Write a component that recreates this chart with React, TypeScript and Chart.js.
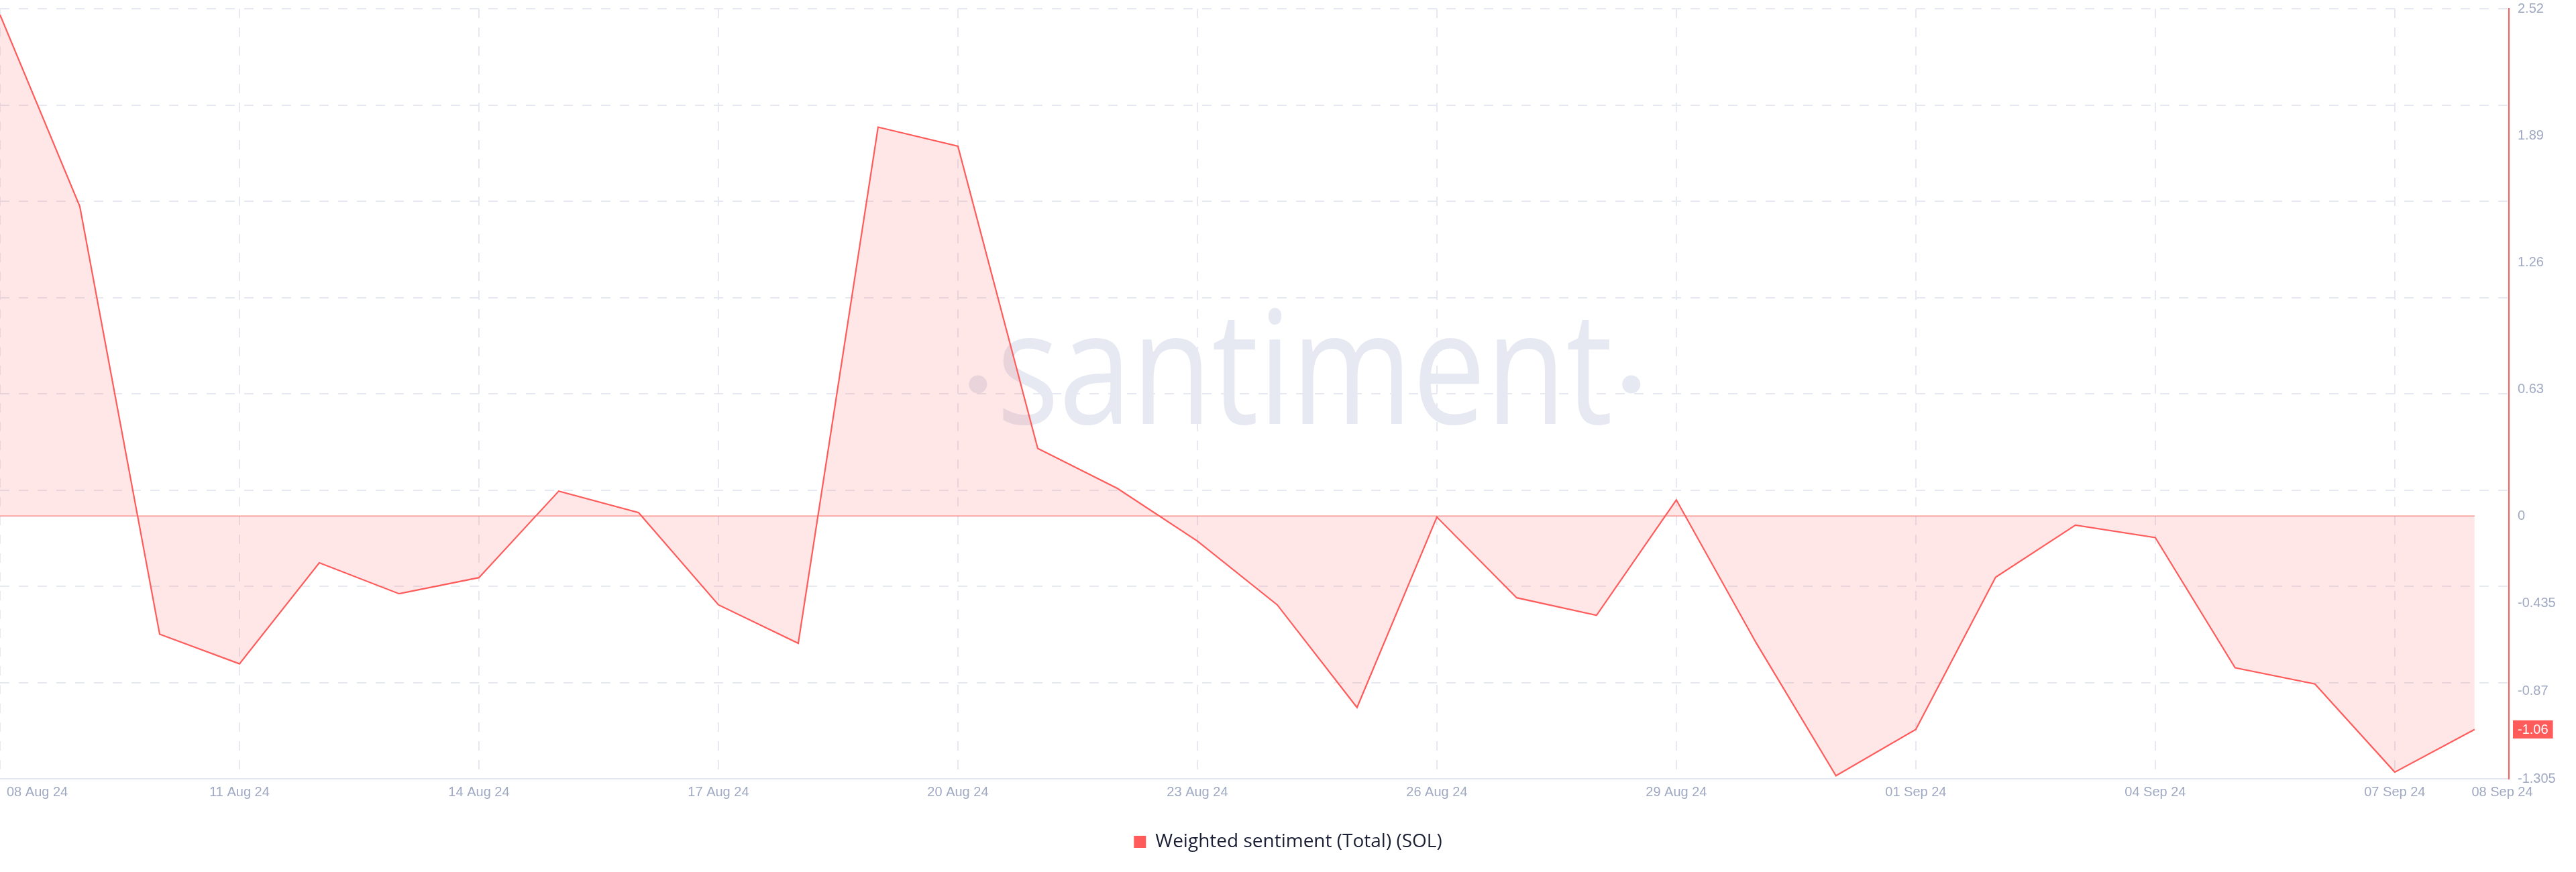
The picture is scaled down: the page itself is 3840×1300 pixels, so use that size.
import React, { useEffect, useRef } from 'react';
import { Chart, registerables } from 'chart.js';

Chart.register(...registerables);

// ---- data ----
const days = [
  '08 Aug 24', '09 Aug 24', '10 Aug 24', '11 Aug 24', '12 Aug 24', '13 Aug 24', '14 Aug 24', '15 Aug 24',
  '16 Aug 24', '17 Aug 24', '18 Aug 24', '19 Aug 24', '20 Aug 24', '21 Aug 24', '22 Aug 24', '23 Aug 24',
  '24 Aug 24', '25 Aug 24', '26 Aug 24', '27 Aug 24', '28 Aug 24', '29 Aug 24', '30 Aug 24', '31 Aug 24',
  '01 Sep 24', '02 Sep 24', '03 Sep 24', '04 Sep 24', '05 Sep 24', '06 Sep 24', '07 Sep 24', '08 Sep 24',
];

const sentiment = [
  2.49, 1.538, -0.587, -0.734, -0.232, -0.386, -0.306, 0.124,
  0.017, -0.441, -0.632, 1.932, 1.837, 0.336, 0.137, -0.124,
  -0.441, -0.951, -0.005, -0.406, -0.493, 0.08, -0.63, -1.29,
  -1.06, -0.304, -0.045, -0.107, -0.754, -0.834, -1.272, -1.06,
];

const xTickIndices = [0, 3, 6, 9, 12, 15, 18, 21, 24, 27, 30, 31];
const yTickValues = [-1.305, -0.87, -0.435, 0, 0.63, 1.26, 1.89, 2.52];
const Y_MIN = -1.305;
const Y_MAX = 2.52;
const GRID_DIVISIONS = 8;
const X_END_PAD = 0.43; // extra room after last day
const SERIES_LABEL = 'Weighted sentiment (Total) (SOL)';

// ---- styles ----
const RED = '#ff5b5b';
const FILL = 'rgba(255, 91, 91, 0.15)';
const ZERO_LINE = 'rgba(240, 110, 110, 0.75)';
const GRID = '#e7e9f2';
const TICK = '#a0a9c2';
const AXIS_GREY = '#e3e6ef';
const WATERMARK = '#e6e9f2';
const TICK_FONT = { family: '"Liberation Sans", Arial, sans-serif', size: 20 };

const watermarkPlugin = {
  id: 'watermark',
  beforeDatasetsDraw(chart: any) {
    const { ctx, chartArea: a } = chart;
    ctx.save();
    ctx.fillStyle = WATERMARK;
    ctx.font = '500 234px "Open Sans"';
    const text = 'santiment';
    const w = ctx.measureText(text).width;
    const targetW = a.width * 0.2455;
    const sx = targetW / w;
    const cx = a.left + a.width * 0.52;
    const baseline = a.top + a.height * 0.5393;
    ctx.save();
    ctx.translate(cx, baseline);
    ctx.scale(sx, 1);
    ctx.textAlign = 'center';
    ctx.textBaseline = 'alphabetic';
    ctx.fillText(text, 0, 0);
    ctx.restore();
    const dotY = a.top + a.height * 0.4878;
    const dx = a.width * 0.1302;
    [cx - dx, cx + dx].forEach((x) => {
      ctx.beginPath();
      ctx.arc(x, dotY, 13.5, 0, Math.PI * 2);
      ctx.fill();
    });
    ctx.restore();
  },
};

const xLabelPlugin = {
  id: 'xLabelAdjust',
  beforeDraw(chart: any) {
    const xs = chart.scales.x;
    const items = xs.getLabelItems(chart.chartArea);
    if (!items || !items.length) return;
    const first = items[0];
    first.options.textAlign = 'left';
    first.options.translation = [xs.getPixelForValue(xTickIndices[0]) + 10, first.options.translation[1]];
    const last = items[items.length - 1];
    last.options.textAlign = 'center';
    last.options.translation = [chart.chartArea.right - 10, last.options.translation[1]];
  },
};

const badgePlugin = {
  id: 'lastValueBadge',
  afterDraw(chart: any) {
    const { ctx, chartArea: a } = chart;
    const ys = chart.scales.y;
    const v = sentiment[sentiment.length - 1];
    const y = ys.getPixelForValue(v);
    const text = v.toFixed(2);
    ctx.save();
    ctx.font = `${TICK_FONT.size}px ${TICK_FONT.family}`;
    const tw = ctx.measureText(text).width;
    const h = 27;
    ctx.fillStyle = RED;
    ctx.fillRect(a.right + 6, y - h / 2, tw + 14, h);
    ctx.fillStyle = '#ffffff';
    ctx.textAlign = 'left';
    ctx.textBaseline = 'middle';
    ctx.fillText(text, a.right + 13, y + 1);
    ctx.restore();
  },
};

export default function App() {
  const canvasRef = useRef<HTMLCanvasElement | null>(null);

  useEffect(() => {
    if (!canvasRef.current) return;
    const mainData = sentiment.map((v, i) => ({ x: i, y: v }));
    const zeroData = sentiment.map((_, i) => ({ x: i, y: 0 }));

    const chart = new Chart(canvasRef.current, {
      type: 'line',
      data: {
        datasets: [
          {
            label: SERIES_LABEL,
            data: mainData,
            borderColor: RED,
            backgroundColor: FILL,
            borderWidth: 2.2,
            fill: 'origin',
            pointRadius: 0,
            tension: 0,
            yAxisID: 'y',
          },
          {
            label: 'zero',
            data: zeroData,
            borderColor: ZERO_LINE,
            borderWidth: 1.5,
            fill: false,
            pointRadius: 0,
            yAxisID: 'y',
          },
        ],
      },
      options: {
        responsive: false,
        animation: false,
        devicePixelRatio: 1,
        layout: { padding: { top: 13, bottom: 21, left: 0, right: 0 } },
        interaction: { mode: 'nearest', intersect: false },
        plugins: {
          tooltip: { enabled: false },
          legend: {
            position: 'bottom',
            labels: {
              boxWidth: 18,
              boxHeight: 18,
              padding: 10,
              color: '#1b1f34',
              font: { family: '"Open Sans", Lato, sans-serif', size: 28 },
              filter: (item: any) => item.datasetIndex === 0,
              generateLabels: (c: any) =>
                Chart.defaults.plugins.legend.labels.generateLabels(c).map((it: any) => ({
                  ...it,
                  fillStyle: RED,
                  strokeStyle: RED,
                  lineWidth: 0,
                })),
            },
          },
        },
        scales: {
          x: {
            type: 'linear',
            min: 0,
            max: days.length - 1 + X_END_PAD,
            afterBuildTicks: (scale: any) => {
              scale.ticks = xTickIndices.map((v) => ({ value: v }));
            },
            afterFit: (scale: any) => {
              scale.height = 70;
              scale.paddingLeft = 0;
              scale.paddingRight = 0;
            },
            ticks: {
              autoSkip: false,
              maxRotation: 0,
              minRotation: 0,
              align: 'inner',
              padding: 8,
              color: TICK,
              font: TICK_FONT,
              callback: (v: any) => days[Math.round(Number(v))] ?? '',
            },
            grid: {
              drawTicks: false,
              lineWidth: 2,
              color: (ctx: any) =>
                ctx.tick && ctx.tick.value === xTickIndices[xTickIndices.length - 1] ? 'rgba(0,0,0,0)' : GRID,
            },
            border: { display: true, color: AXIS_GREY, width: 2, dash: [14, 14] },
          },
          y: {
            type: 'linear',
            position: 'right',
            min: Y_MIN,
            max: Y_MAX,
            afterBuildTicks: (scale: any) => {
              scale.ticks = yTickValues.map((v) => ({ value: v }));
            },
            afterFit: (scale: any) => {
              scale.width = 100;
              scale.paddingTop = 0;
              scale.paddingBottom = 0;
            },
            ticks: {
              padding: 13,
              color: TICK,
              font: TICK_FONT,
              callback: (v: any) => String(v),
            },
            grid: { display: false, drawTicks: false },
            border: { display: true, color: RED, width: 2 },
          },
          yg: {
            type: 'linear',
            position: 'left',
            min: Y_MIN,
            max: Y_MAX,
            afterBuildTicks: (scale: any) => {
              const step = (Y_MAX - Y_MIN) / GRID_DIVISIONS;
              scale.ticks = Array.from({ length: GRID_DIVISIONS + 1 }, (_, i) => ({ value: Y_MIN + i * step }));
            },
            afterFit: (scale: any) => {
              scale.width = 0;
              scale.paddingTop = 0;
              scale.paddingBottom = 0;
            },
            ticks: { display: false },
            grid: { color: GRID, lineWidth: 2, drawTicks: false },
            border: { display: false, dash: [14, 14] },
          },
        },
      },
      plugins: [watermarkPlugin, xLabelPlugin, badgePlugin],
    } as any);

    return () => chart.destroy();
  }, []);

  return (
    <div style={{ position: 'absolute', left: 0, top: 0, width: 3840, height: 1300, background: '#ffffff' }}>
      <canvas ref={canvasRef} width={3840} height={1300} style={{ display: 'block' }} />
    </div>
  );
}
